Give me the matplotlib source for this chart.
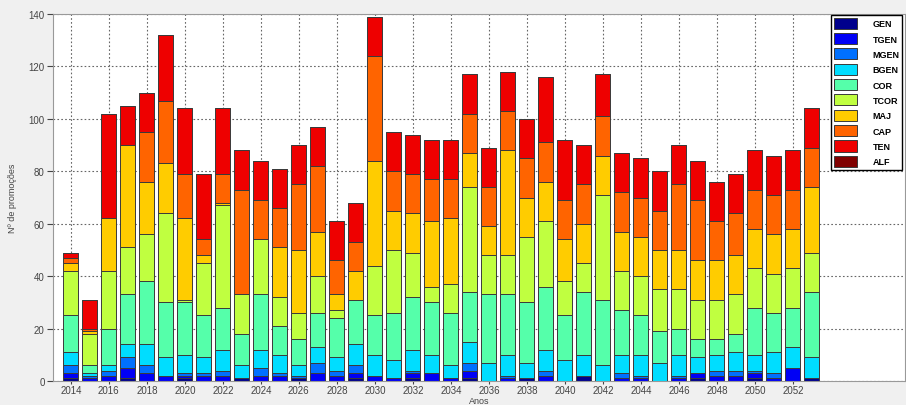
import matplotlib
matplotlib.use("Agg")
import matplotlib.pyplot as plt
import numpy as np

matplotlib.rcParams.update({"font.family": ["Liberation Sans", "DejaVu Sans"]})

anos = list(range(2014, 2054))
postos = ["GEN", "TGEN", "MGEN", "BGEN", "COR", "TCOR", "MAJ", "CAP", "TEN", "ALF"]
cores = ["#00008C", "#0000F5", "#0070FF", "#00DDFF", "#55FFAA",
         "#C0FF40", "#FFCC00", "#FF6400", "#EE0000", "#800000"]

gen = [1, 0, 0, 1, 0, 0, 1, 0, 0, 1, 0, 0, 1, 0, 0, 1, 0, 0, 1, 0,
       0, 1, 0, 0, 1, 0, 0, 2, 0, 0, 0, 0, 0, 1, 0, 0, 1, 0, 0, 1]
tgen = [2, 1, 2, 4, 3, 2, 1, 2, 2, 0, 2, 2, 0, 3, 2, 2, 2, 1, 2, 3,
        1, 3, 0, 1, 0, 2, 0, 0, 0, 1, 1, 0, 1, 2, 2, 2, 2, 1, 5, 0]
mgen = [3, 1, 2, 4, 3, 0, 1, 1, 2, 0, 3, 1, 1, 4, 2, 3, 0, 0, 1, 0,
        0, 3, 0, 1, 0, 2, 0, 0, 0, 2, 1, 0, 1, 0, 2, 2, 1, 2, 0, 0]
bgen = [5, 1, 2, 5, 8, 7, 7, 6, 8, 5, 7, 7, 4, 6, 5, 8, 8, 7, 8, 7,
        5, 8, 7, 8, 6, 8, 8, 8, 6, 7, 8, 7, 8, 6, 6, 7, 6, 8, 8, 8]
cor = [14, 3, 14, 19, 24, 21, 20, 16, 16, 12, 21, 11, 10, 13, 15, 17, 15, 18, 20, 20,
       20, 19, 26, 23, 23, 24, 17, 24, 25, 17, 15, 12, 10, 7, 6, 7, 18, 15, 15, 25]
tcor = [17, 12, 22, 18, 18, 34, 1, 20, 39, 15, 21, 11, 10, 14, 3, 0, 19, 24, 17, 6,
        11, 40, 15, 15, 25, 25, 13, 11, 40, 15, 15, 16, 15, 15, 15, 15, 15, 15, 15, 15]
maj = [3, 1, 20, 39, 20, 19, 31, 3, 1, 0, 0, 19, 24, 17, 6, 11, 40, 15, 15, 25,
       25, 13, 11, 40, 15, 15, 16, 15, 15, 15, 15, 15, 15, 15, 15, 15, 15, 15, 15, 25]
cap = [2, 1, 0, 0, 19, 24, 17, 6, 11, 40, 15, 15, 25, 25, 13, 11, 40, 15, 15, 16,
       15, 15, 15, 15, 15, 15, 15, 15, 15, 15, 15, 15, 25, 23, 15, 16, 15, 15, 15, 15]
ten = [2, 11, 40, 15, 15, 25, 25, 25, 25, 15, 15, 15, 15, 15, 15, 15, 15, 15, 15, 15,
       15, 15, 15, 15, 15, 25, 23, 15, 16, 15, 15, 15, 15, 15, 15, 15, 15, 15, 15, 15]
alf = [0] * 40

series = [gen, tgen, mgen, bgen, cor, tcor, maj, cap, ten, alf]

fig = plt.figure(figsize=(9.06, 4.06), dpi=100, facecolor="#f0f0f0")
ax = fig.add_axes([53 / 906, 1 - 382 / 406, 852 / 906, 367 / 406])
ax.set_facecolor("white")

base = np.zeros(len(anos))
for nome, cor_, vals in zip(postos, cores, series):
    vals = np.array(vals, dtype=float)
    ax.bar(anos, vals, width=0.78, bottom=base, color=cor_, edgecolor="#3a3a3a",
           linewidth=0.7, label=nome)
    base += vals

ax.set_xlim(2013.06, 2057.9)
ax.set_ylim(0, 140)
ax.set_xticks(np.arange(2014, 2054, 2))
ax.set_yticks(np.arange(0, 141, 20))
ax.set_axisbelow(True)
ax.grid(True, linestyle=(0, (1.5, 2)), color="#666666", linewidth=0.8)
ax.tick_params(labelsize=7, colors="#444444", length=4, direction="out", pad=2)
ax.tick_params(axis="x", length=2, pad=1)
for s in ax.spines.values():
    s.set_color("#999999")

ax.set_xlabel("Anos", fontsize=6.5, color="#444444")
ax.xaxis.set_label_coords(0.5, -0.04)
ax.set_ylabel("Nº de promoções", fontsize=6.5, color="#444444", labelpad=8)

leg = ax.legend(loc="upper left", bbox_to_anchor=(831 / 906, 1 - 16 / 406),
                bbox_transform=fig.transFigure, borderaxespad=0, borderpad=0.3,
                handlelength=2.6, handleheight=1.5, labelspacing=0.48,
                handletextpad=1.7, fancybox=False, framealpha=1,
                prop={"size": 6.5, "weight": "bold"})
leg.get_frame().set_edgecolor("black")
leg.get_frame().set_linewidth(1.0)

fig.savefig("out.png", dpi=100, facecolor=fig.get_facecolor())
